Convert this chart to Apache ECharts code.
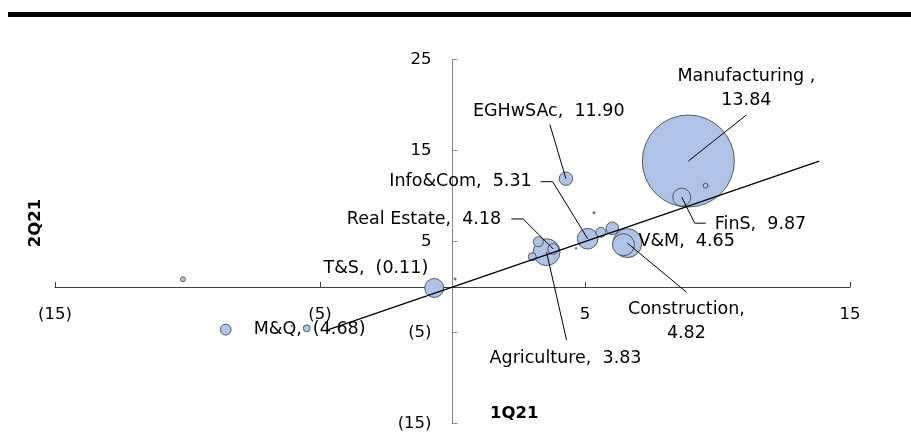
<!DOCTYPE html>
<html>
<head>
<meta charset="utf-8">
<script src="https://cdn.jsdelivr.net/npm/echarts@6/dist/echarts.min.js"></script>
<style>
  html, body { margin: 0; padding: 0; background: #fff; }
  #chart { width: 911px; height: 437px; }
</style>
</head>
<body>
<div id="chart"></div>
<script>
// Sector growth (%), 1Q21 on x, 2Q21 on y; bubble area follows sector weight
const sectors    = ['Manufacturing', 'EGHwSAc', 'Info&Com', 'Real Estate', 'Agriculture', 'V&M', 'Construction', 'FinS', 'T&S', 'M&Q'];
const growth1Q21 = [8.90, 4.28, 5.10, 3.80, 3.55, 6.45, 6.60, 8.65, -0.69, -8.56];
const growth2Q21 = [13.84, 11.90, 5.31, 4.18, 3.83, 4.65, 4.82, 9.87, -0.11, -4.68];
const weights    = [21.2, 0.45, 1.07, 0.29, 1.8, 1.21, 2.1, 0.81, 0.9, 0.3];

// Sectors shown without a label
const other1Q21    = [3.24, 3.01, 5.60, 6.03, 9.55, 5.34, 4.66, 0.10, -10.17, -5.50, -6.07];
const other2Q21    = [4.98, 3.33, 6.01, 6.45, 11.13, 8.16, 4.25, 0.88, 0.85, -4.54, -4.29];
const otherWeights = [0.25, 0.16, 0.25, 0.4, 0.06, 0.01, 0.006, 0.01, 0.06, 0.12, 0.006];

const xTicks = [-15, -5, 5, 15];
const yTicks = [-15, -5, 5, 15, 25];

const FONT = '"DejaVu Sans", Verdana, sans-serif';

function fmt(v) {
  return v < 0 ? '(' + Math.abs(v).toFixed(2) + ')' : v.toFixed(2);
}
function fmtTick(v) {
  return v < 0 ? '(' + Math.abs(v) + ')' : String(v);
}

// Label placement (pixel offsets from the bubble centre) and leader paths
const labelLayout = {
  'Manufacturing': { at: [58, -73], align: 'center', sep: ' ,\n', leader: [[58, -46]] },
  'EGHwSAc':       { at: [-93, -67], align: 'left',  sep: ',  ', leader: [[-16, -54]] },
  'Info&Com':      { at: [-56, -57], align: 'right', sep: ',  ', leader: [[-35, -57], [-47, -57]] },
  'Real Estate':   { at: [-52, -30], align: 'right', sep: ',  ', leader: [[-30, -30], [-42, -30]] },
  'Agriculture':   { at: [-57, 106], align: 'left',  sep: ',  ', leader: [[20, 88]] },
  'V&M':           { at: [15, -3],   align: 'left',  sep: ',  ', leader: null },
  'Construction':  { at: [59, 78],   align: 'center', sep: ',\n', leader: [[59, 49]] },
  'FinS':          { at: [33, 27],   align: 'left',  sep: ',  ', leader: [[13, 26], [24, 26]] },
  'T&S':           { at: [-6, -20],  align: 'right', sep: ',  ', leader: null },
  'M&Q':           { at: [28, 0],    align: 'left',  sep: ',  ', leader: null }
};

// All bubbles, larger ones drawn first so small ones stay visible
const bubbles = sectors.map((s, i) => [growth1Q21[i], growth2Q21[i], weights[i]])
  .concat(other1Q21.map((x, i) => [x, other2Q21[i], otherWeights[i]]))
  .sort((a, b) => b[2] - a[2]);

const lo = Math.min(...growth2Q21);
const hi = Math.max(...growth2Q21);

// Plot area and axis ranges; the axes cross at the origin
const W = 911, H = 437;
const grid = { left: 55, right: 61, top: 59.5, bottom: 13.5 };
const xRange = [-15, 15], yRange = [-15, 25];
const plotW = W - grid.left - grid.right;
const plotH = H - grid.top - grid.bottom;
// shift each axis from the grid edge onto the other axis' zero
const xAxisShift = -plotH * (0 - yRange[0]) / (yRange[1] - yRange[0]);
const yAxisShift = -plotW * (0 - xRange[0]) / (xRange[1] - xRange[0]);

const chart = echarts.init(document.getElementById('chart'), null, { renderer: 'canvas' });

chart.setOption({
  animation: false,
  backgroundColor: '#fff',
  grid: Object.assign({ containLabel: false, outerBoundsMode: 'none' }, grid),
  xAxis: {
    type: 'value', min: xRange[0], max: xRange[1],
    position: 'bottom', offset: xAxisShift,
    splitLine: { show: false },
    axisLine: { onZero: false, lineStyle: { color: '#404040', width: 1 } },
    axisTick: { inside: true, length: 5, customValues: xTicks, lineStyle: { color: '#404040' } },
    axisLabel: { customValues: xTicks, formatter: fmtTick, margin: 19, fontSize: 16.5, fontFamily: FONT, color: '#000' }
  },
  yAxis: {
    type: 'value', min: yRange[0], max: yRange[1],
    position: 'left', offset: yAxisShift,
    splitLine: { show: false },
    axisLine: { onZero: false, lineStyle: { color: '#868686', width: 1 } },
    axisTick: { inside: true, length: 5, customValues: yTicks, lineStyle: { color: '#868686' } },
    axisLabel: { customValues: yTicks, formatter: fmtTick, margin: 21, fontSize: 16.5, fontFamily: FONT, color: '#000' }
  },
  graphic: [
    { type: 'rect', left: 8, top: 12, shape: { width: 903, height: 5 }, style: { fill: '#000' } },
    { type: 'text', x: 36, y: 223, rotation: Math.PI / 2,
      style: { text: '2Q21', fontSize: 16.5, fontWeight: 'bold', fontFamily: FONT, fill: '#000', align: 'center', verticalAlign: 'middle' } },
    { type: 'text', x: 490, y: 414,
      style: { text: '1Q21', fontSize: 16.5, fontWeight: 'bold', fontFamily: FONT, fill: '#000', align: 'left', verticalAlign: 'middle' } }
  ],
  series: [
    {
      type: 'scatter',
      data: bubbles,
      symbol: 'circle',
      symbolSize: v => 20 * Math.sqrt(v[2]),
      itemStyle: { color: '#aec3e6', borderColor: '#3a3a3a', borderWidth: 0.8, opacity: 1 },
      emphasis: { disabled: true },
      silent: true,
      z: 2
    },
    {
      type: 'line',
      data: [[lo, lo], [hi, hi]],
      symbol: 'none',
      lineStyle: { color: '#000', width: 1.3 },
      silent: true,
      z: 3
    },
    {
      type: 'custom',
      data: sectors.map((s, i) => [growth1Q21[i], growth2Q21[i], i]),
      clip: false,
      silent: true,
      z: 4,
      renderItem: function (params, api) {
        const i = api.value(2);
        const name = sectors[i];
        const L = labelLayout[name];
        const p = api.coord([api.value(0), api.value(1)]);
        const children = [];
        if (L.leader) {
          const pts = [p].concat(L.leader.map(o => [p[0] + o[0], p[1] + o[1]]));
          children.push({
            type: 'polyline',
            shape: { points: pts },
            style: { stroke: '#000', lineWidth: 1, fill: 'none' }
          });
        }
        children.push({
          type: 'text',
          x: p[0] + L.at[0],
          y: p[1] + L.at[1],
          style: {
            text: name + L.sep + fmt(growth2Q21[i]),
            fontSize: 17.5, fontFamily: FONT, fill: '#000',
            align: L.align, verticalAlign: 'middle', lineHeight: 24
          }
        });
        return { type: 'group', children: children };
      }
    }
  ]
});
</script>
</body>
</html>
